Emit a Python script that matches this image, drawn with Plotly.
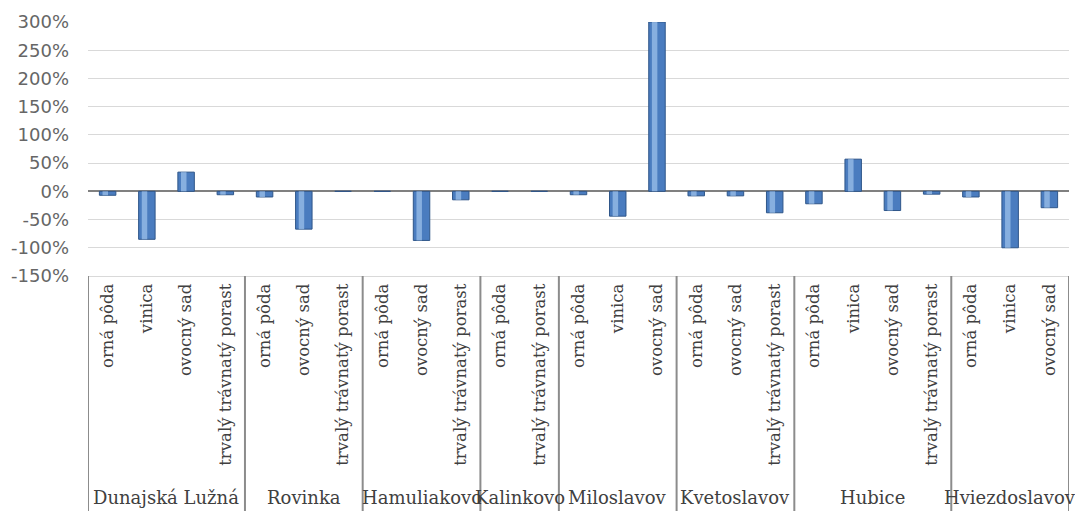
import plotly.graph_objects as go

# ---- data ----
groups = ["Dunajská Lužná", "Rovinka", "Hamuliakovo", "Kalinkovo",
          "Miloslavov", "Kvetoslavov", "Hubice", "Hviezdoslavov"]
land_types = [
    ["orná pôda", "vinica", "ovocný sad", "trvalý trávnatý porast"],
    ["orná pôda", "ovocný sad", "trvalý trávnatý porast"],
    ["orná pôda", "ovocný sad", "trvalý trávnatý porast"],
    ["orná pôda", "trvalý trávnatý porast"],
    ["orná pôda", "vinica", "ovocný sad"],
    ["orná pôda", "ovocný sad", "trvalý trávnatý porast"],
    ["orná pôda", "vinica", "ovocný sad", "trvalý trávnatý porast"],
    ["orná pôda", "vinica", "ovocný sad"],
]
changes_pct = [
    [-7, -85, 34, -6],
    [-10, -67, 0],
    [0, -87, -15],
    [0, 0],
    [-6, -44, 300],
    [-8, -8, -38],
    [-22, 57, -34, -5],
    [-10, -100, -29],
]
y_ticks = [-150, -100, -50, 0, 50, 100, 150, 200, 250, 300]

# ---- flatten ----
xs, labels, vals = [], [], []
group_spans = []
i = 0
for g, lts, vs in zip(groups, land_types, changes_pct):
    start = i
    for lt, v in zip(lts, vs):
        xs.append(i)
        labels.append(lt)
        vals.append(v)
        i += 1
    group_spans.append((start, i - 1))
n = len(xs)

fig = go.Figure()
fig.add_trace(go.Bar(
    x=xs, y=vals, width=0.42,
    marker=dict(color="#4a7cbf", line=dict(color="#2f5689", width=1)),
    hoverinfo="y",
))
fig.add_trace(go.Bar(
    x=xs, y=vals, width=0.14, offset=-0.13,
    marker=dict(color="#9cc0ea", line=dict(width=0)),
    opacity=0.75, hoverinfo="skip",
))

# group dividers and labels
bounds = [-0.5] + [e + 0.5 for (_, e) in group_spans]
for b in bounds:
    fig.add_shape(type="line", xref="x", yref="paper", x0=b, x1=b,
                  y0=0, y1=-0.93, line=dict(color="#8c8c8c", width=2))
for g, (s, e) in zip(groups, group_spans):
    fig.add_annotation(x=(s + e) / 2, y=-0.874, xref="x", yref="paper",
                       text=g, showarrow=False, yanchor="middle",
                       font=dict(family="DejaVu Serif", size=18, color="#404040"))

fig.update_layout(
    width=1075, height=511,
    margin=dict(l=88, r=6, t=22, b=235),
    paper_bgcolor="white", plot_bgcolor="white",
    showlegend=False, barmode="overlay",
    xaxis=dict(
        range=[-0.5, n - 0.5], tickmode="array", tickvals=xs, ticktext=labels,
        tickangle=-90, showgrid=False, zeroline=False,
        showline=True, linecolor="#d9d9d9", linewidth=1,
        ticks="", tickfont=dict(family="DejaVu Serif", size=16.5, color="#404040"),
    ),
    yaxis=dict(
        range=[-150, 300], tickmode="array", tickvals=y_ticks,
        ticktext=[f"{v}%" for v in y_ticks],
        showgrid=True, gridcolor="#d9d9d9", gridwidth=1,
        zeroline=True, zerolinecolor="#808080", zerolinewidth=2,
        showline=False, ticks="", ticklabelstandoff=18,
        tickfont=dict(family="DejaVu Sans", size=18, color="#666666"),
    ),
)

fig.write_html("out.html", config={"displayModeBar": False},
               post_script="document.body.style.margin='0';document.body.style.padding='0';")
